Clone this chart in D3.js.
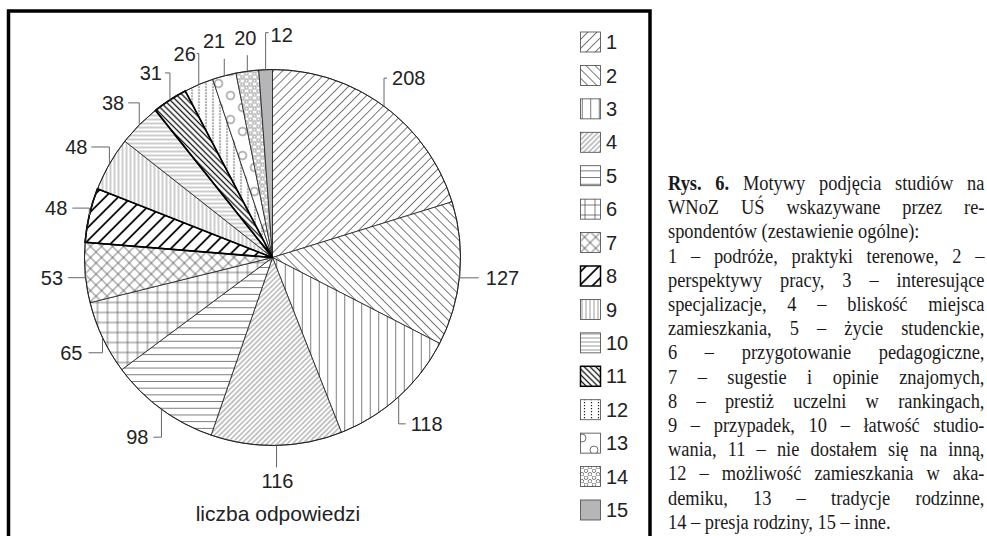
<!DOCTYPE html>
<html>
<head>
<meta charset="utf-8">
<script src="https://cdn.jsdelivr.net/npm/d3@7"></script>
<style>
  body { margin: 0; background: #fff; }
  #wrap { position: relative; width: 987px; height: 536px; overflow: hidden; }
  #caption {
    position: absolute; left: 668px; top: 171px; width: 344px;
    transform: scaleX(0.92); transform-origin: 0 0;
    font-family: "Liberation Serif", "Times New Roman", serif;
    font-size: 20px; line-height: 24.2px; color: #1a1a1a;
  }
  #caption div { white-space: nowrap; }
  #caption div.j { text-align: justify; text-align-last: justify; white-space: normal; }
</style>
</head>
<body>
<div id="wrap"></div>
<script>
// data
const categories = ["1", "2", "3", "4", "5", "6", "7", "8", "9", "10", "11", "12", "13", "14", "15"];
const values = [208, 127, 118, 116, 98, 65, 53, 48, 48, 38, 31, 26, 21, 20, 12];
const axisTitle = "liczba odpowiedzi";
const captionLines = [
  "<b>Rys. 6.</b> Motywy podjęcia studiów na",
  "WNoZ UŚ wskazywane przez re-",
  "spondentów (zestawienie ogólne):",
  "1 – podróże, praktyki terenowe, 2 –",
  "perspektywy pracy, 3 – interesujące",
  "specjalizacje, 4 – bliskość miejsca",
  "zamieszkania, 5 – życie studenckie,",
  "6 – przygotowanie pedagogiczne,",
  "7 – sugestie i opinie znajomych,",
  "8 – prestiż uczelni w rankingach,",
  "9 – przypadek, 10 – łatwość studio-",
  "wania, 11 – nie dostałem się na inną,",
  "12 – możliwość zamieszkania w aka-",
  "demiku, 13 – tradycje rodzinne,",
  "14 – presja rodziny, 15 – inne."
];

// leader line layout for each label (vertical leg, horizontal leg, text offset)
const leaders = [
  { dy: -28, dx: 3, tx: 5, ty: 0, anchor: "start" },
  { dy: 4, dx: 19, tx: 7, ty: 0, anchor: "start" },
  { dy: 27, dx: 7, tx: 5, ty: 0, anchor: "start" },
  { dy: 22, dx: 0, tx: 1, ty: 13, anchor: "middle" },
  { dy: 28, dx: -8, tx: -5, ty: 0, anchor: "end" },
  { dy: 15, dx: -14, tx: -6, ty: 0, anchor: "end" },
  { dy: 5, dx: -17, tx: -5, ty: 0, anchor: "end" },
  { dy: -7, dx: -17, tx: -5, ty: 0, anchor: "end" },
  { dy: -17, dx: -18, tx: -4, ty: 0, anchor: "end" },
  { dy: -22, dx: -11, tx: -4, ty: 0, anchor: "end" },
  { dy: -27, dx: -5, tx: -3, ty: 0, anchor: "end" },
  { dy: -31, dx: -2, tx: -1, ty: 0, anchor: "end" },
  { dy: -17, dx: 0, tx: 1, ty: -18, anchor: "end" },
  { dy: -16, dx: 0, tx: -2, ty: -17, anchor: "middle" },
  { dy: -37, dx: 3, tx: 2, ty: 2, anchor: "start" }
];

const W = 987, H = 536;
const cx = 272.5, cy = 257.5, radius = 188;
const ink = "#1e1e1e";

const svg = d3.select("#wrap").append("svg")
    .attr("width", W)
    .attr("height", H)
    .style("position", "absolute")
    .style("left", 0).style("top", 0);

const defs = svg.append("defs");

// simple line hatch, rotated
function hatch(id, gap, angle, color, w, dash) {
    const p = defs.append("pattern")
        .attr("id", id)
        .attr("patternUnits", "userSpaceOnUse")
        .attr("width", gap)
        .attr("height", dash ? 9 : gap)
        .attr("patternTransform", "rotate(" + angle + ")");
    p.append("rect").attr("width", gap).attr("height", dash ? 9 : gap).attr("fill", "#fff");
    p.append("line")
        .attr("x1", gap / 2).attr("x2", gap / 2)
        .attr("y1", 0).attr("y2", dash ? 9 : gap)
        .attr("stroke", color)
        .attr("stroke-width", w)
        .attr("stroke-dasharray", dash || null);
    return p;
}

function cross(id, gap, angle, color, w) {
    const p = defs.append("pattern")
        .attr("id", id)
        .attr("patternUnits", "userSpaceOnUse")
        .attr("width", gap).attr("height", gap)
        .attr("patternTransform", "rotate(" + angle + ")");
    p.append("rect").attr("width", gap).attr("height", gap).attr("fill", "#fff");
    p.append("line").attr("x1", gap / 2).attr("x2", gap / 2).attr("y1", 0).attr("y2", gap)
        .attr("stroke", color).attr("stroke-width", w);
    p.append("line").attr("y1", gap / 2).attr("y2", gap / 2).attr("x1", 0).attr("x2", gap)
        .attr("stroke", color).attr("stroke-width", w);
}

function dots(id, tw, th, r, pts, color, w) {
    const p = defs.append("pattern")
        .attr("id", id)
        .attr("patternUnits", "userSpaceOnUse")
        .attr("width", tw).attr("height", th);
    p.append("rect").attr("width", tw).attr("height", th).attr("fill", "#fff");
    pts.forEach(pt => {
        p.append("circle").attr("cx", pt[0]).attr("cy", pt[1]).attr("r", r)
            .attr("fill", "#fff").attr("stroke", color).attr("stroke-width", w);
    });
}

hatch("p1", 6.4, 45, "#444", 0.7);
hatch("p2", 6.4, -45, "#444", 0.7);
hatch("p3", 8.5, 0, "#444", 0.7);
hatch("p4", 3.6, 45, "#444", 0.6);
hatch("p5", 6.7, 90, "#444", 0.7);
cross("p6", 10, 0, "#444", 0.7);
cross("p7", 7.8, 45, "#444", 0.7);
hatch("p8", 9.2, 45, "#111", 1.8);
hatch("p9", 4, 0, "#555", 0.6);
hatch("p10", 4, 90, "#555", 0.6);
hatch("p11", 4.1, -45, "#111", 1.3);
hatch("p12", 7, 0, "#222", 1.2, "1.3,1.7");
dots("p13", 24, 24, 4, [[6, 6], [18, 18]], "#333", 0.7);
dots("p14", 8, 7, 1.8, [[2, 1.75], [6, 5.25]], "#333", 0.6);

const fills = categories.map((c, i) => i === 14 ? "#b6b6b8" : "url(#p" + (i + 1) + ")");
const heavy = new Set([7, 10]);

// frame
svg.append("rect")
    .attr("x", 8.5).attr("y", 11)
    .attr("width", 641.5).attr("height", 600)
    .attr("fill", "none")
    .attr("stroke", "#000")
    .attr("stroke-width", 3.5);

// pie
const pie = d3.pie().value(d => d).sort(null);
const arc = d3.arc().innerRadius(0).outerRadius(radius);
const arcs = pie(values);

const g = svg.append("g").attr("transform", "translate(" + cx + "," + cy + ")");

g.selectAll("path.slice")
    .data(arcs)
    .enter().append("path")
    .attr("class", "slice")
    .attr("d", arc)
    .attr("fill", (d, i) => fills[i])
    .attr("stroke", ink)
    .attr("stroke-width", (d, i) => heavy.has(i) ? 1.5 : 0.8)
    .attr("stroke-linejoin", "round");

// redraw heavy slices on top so their borders are not covered
g.selectAll("path.heavy")
    .data(arcs.filter((d, i) => heavy.has(i)))
    .enter().append("path")
    .attr("d", arc)
    .attr("fill", "none")
    .attr("stroke", "#000")
    .attr("stroke-width", 1.6);

g.append("circle").attr("r", radius).attr("fill", "none").attr("stroke", ink).attr("stroke-width", 0.9);

// labels with elbow leaders
arcs.forEach((d, i) => {
    const a = (d.startAngle + d.endAngle) / 2;
    const ax = cx + radius * Math.sin(a);
    const ay = cy - radius * Math.cos(a);
    const L = leaders[i];
    const ex = ax + L.dx, ey = ay + L.dy;
    svg.append("path")
        .attr("d", "M" + ax + "," + ay + "L" + ax + "," + ey + "L" + ex + "," + ey)
        .attr("fill", "none")
        .attr("stroke", "#666")
        .attr("stroke-width", 1);
    svg.append("text")
        .attr("x", ex + L.tx)
        .attr("y", ey + L.ty)
        .attr("dy", "0.36em")
        .attr("text-anchor", L.anchor)
        .style("font-family", "'Liberation Sans', Arial, sans-serif")
        .style("font-size", "20px")
        .style("fill", "#222")
        .text(values[i]);
});

svg.append("text")
    .attr("x", 278)
    .attr("y", 513)
    .attr("dy", "0.36em")
    .attr("text-anchor", "middle")
    .style("font-family", "'Liberation Sans', Arial, sans-serif")
    .style("font-size", "21px")
    .style("fill", "#222")
    .text(axisTitle);

// legend
const ly = d3.scalePoint().domain(categories).range([42, 510]);
const legend = svg.append("g");
categories.forEach((c, i) => {
    legend.append("rect")
        .attr("x", 580.5).attr("y", ly(c) - 10)
        .attr("width", 20).attr("height", 20)
        .attr("fill", fills[i])
        .attr("stroke", heavy.has(i) ? "#000" : "#444")
        .attr("stroke-width", heavy.has(i) ? 1.5 : 0.8);
    legend.append("text")
        .attr("x", 606)
        .attr("y", ly(c))
        .attr("dy", "0.36em")
        .style("font-family", "'Liberation Sans', Arial, sans-serif")
        .style("font-size", "20px")
        .style("fill", "#222")
        .text(c);
});

// caption
const cap = d3.select("#wrap").append("div").attr("id", "caption");
cap.selectAll("div")
    .data(captionLines)
    .enter().append("div")
    .attr("class", (d, i) => (i === 2 || i === captionLines.length - 1) ? null : "j")
    .html(d => d);
</script>
</body>
</html>
